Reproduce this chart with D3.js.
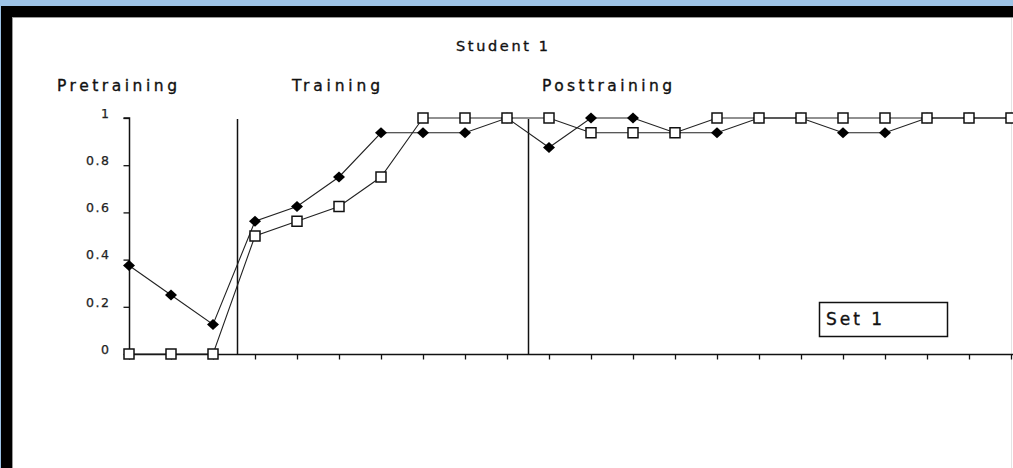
<!DOCTYPE html>
<html><head><meta charset="utf-8">
<script src="https://cdn.jsdelivr.net/npm/d3@7"></script>
<style>html,body{margin:0;padding:0;background:#fff;overflow:hidden}svg{display:block}</style>
</head><body>
<svg id="c" width="1013" height="468"></svg>
<script>
const title = "Student 1";
const phases = ["Pretraining", "Training", "Posttraining"];
const phaseBreaks = [2.58, 9.5];
const sessions = d3.range(1, 23);
const seriesDiamond = [0.375,0.25,0.125,0.5625,0.625,0.75,0.9375,0.9375,0.9375,1,0.875,1,1,0.9375,0.9375,1,1,0.9375,0.9375,1,1,1];
const seriesSquare  = [0,0,0,0.5,0.5625,0.625,0.75,1,1,1,1,0.9375,0.9375,0.9375,1,1,1,1,1,1,1,1];
const yTicks = [0, 0.2, 0.4, 0.6, 0.8, 1];
const legendLabel = "Set 1";

const svg = d3.select("#c");
const W = 1013, H = 468;
// frame
svg.append("rect").attr("x",0).attr("y",0).attr("width",W).attr("height",H).attr("fill","#9dc3e6");
svg.append("rect").attr("x",1).attr("y",6).attr("width",W-1).attr("height",H-6).attr("fill","#000");
svg.append("rect").attr("x",12).attr("y",17).attr("width",W-12).attr("height",H-17).attr("fill","#9a9a9a");
svg.append("rect").attr("x",13).attr("y",18).attr("width",W-13).attr("height",H-18).attr("fill","#fff");
svg.append("line").attr("x1",1011.5).attr("x2",1011.5).attr("y1",18).attr("y2",H).attr("stroke","#e4e4e4");

const x = d3.scaleLinear().domain([0, sessions.length-1]).range([129, 1011]);
const y = d3.scaleLinear().domain([0, 1]).range([354, 118]);
const font = "'DejaVu Sans', Verdana, sans-serif";

function styleText(t, size){
  return t.attr("font-family",font).attr("font-size",size).attr("fill","#111")
    .attr("stroke","#111").attr("stroke-width",0.35).attr("lengthAdjust","spacing");
}
// title
styleText(svg.append("text").attr("x",456).attr("y",51), 14.5).attr("textLength",92).text(title);
// phase labels
const phaseX = [57, 292, 542], phaseW = [120, 88, 130];
phases.forEach((p,i)=>{
  styleText(svg.append("text").attr("x",phaseX[i]).attr("y",91), 15.5).attr("textLength",phaseW[i]).text(p);
});

// y axis
const yAxis = d3.axisLeft(y).tickValues(yTicks).tickSize(6).tickPadding(0).tickFormat(d=>String(d));
const ga = svg.append("g").attr("transform","translate(129.5,0)").call(yAxis);
ga.select(".domain").attr("stroke","#111").attr("stroke-width",1.5).attr("d","M-6,"+y(1)+"H0V"+y(0));
ga.selectAll(".tick line").attr("stroke","#111").attr("stroke-width",1.3);
ga.selectAll(".tick text").attr("font-family",font).attr("font-size",12.5).attr("fill","#222")
  .attr("stroke","#222").attr("stroke-width",0.25)
  .attr("x",-19).attr("dy","-0.05em").attr("letter-spacing","1.5px");

// x axis
const xAxis = d3.axisBottom(x).tickValues(d3.range(sessions.length)).tickSize(5).tickFormat("");
const gx = svg.append("g").attr("transform","translate(0,"+(y(0)+0.5)+")").call(xAxis);
gx.select(".domain").attr("stroke","#111").attr("stroke-width",1.5).attr("d","M"+x(0)+",0H"+W);
gx.selectAll(".tick line").attr("stroke","#111").attr("stroke-width",1.3);

// phase lines
svg.selectAll(".phase").data(phaseBreaks).enter().append("line")
  .attr("x1",d=>Math.round(x(d))+0.5).attr("x2",d=>Math.round(x(d))+0.5)
  .attr("y1",y(1)+1).attr("y2",y(0)).attr("stroke","#111").attr("stroke-width",1.5);

// lines
const line = d3.line().x((d,i)=>x(i)).y(d=>y(d));
[seriesDiamond, seriesSquare].forEach(s=>{
  svg.append("path").datum(s).attr("d",line).attr("fill","none").attr("stroke","#222").attr("stroke-width",1.1);
});
// markers
svg.selectAll(".dia").data(seriesDiamond).enter().append("path")
  .attr("d",(d,i)=>{const cx=x(i), cy=y(d); return `M${cx},${cy-5.5}L${cx+6},${cy}L${cx},${cy+5.5}L${cx-6},${cy}Z`;})
  .attr("fill","#000");
svg.selectAll(".sq").data(seriesSquare).enter().append("rect")
  .attr("x",(d,i)=>x(i)-5).attr("y",d=>y(d)-5).attr("width",10).attr("height",10)
  .attr("fill","#fff").attr("stroke","#111").attr("stroke-width",1.5);

// legend
svg.append("rect").attr("x",819.5).attr("y",302.5).attr("width",128).attr("height",34)
  .attr("fill","#fff").attr("stroke","#111").attr("stroke-width",1.5);
styleText(svg.append("text").attr("x",826).attr("y",324.5), 17).attr("textLength",56).text(legendLabel);
</script>
</body></html>
